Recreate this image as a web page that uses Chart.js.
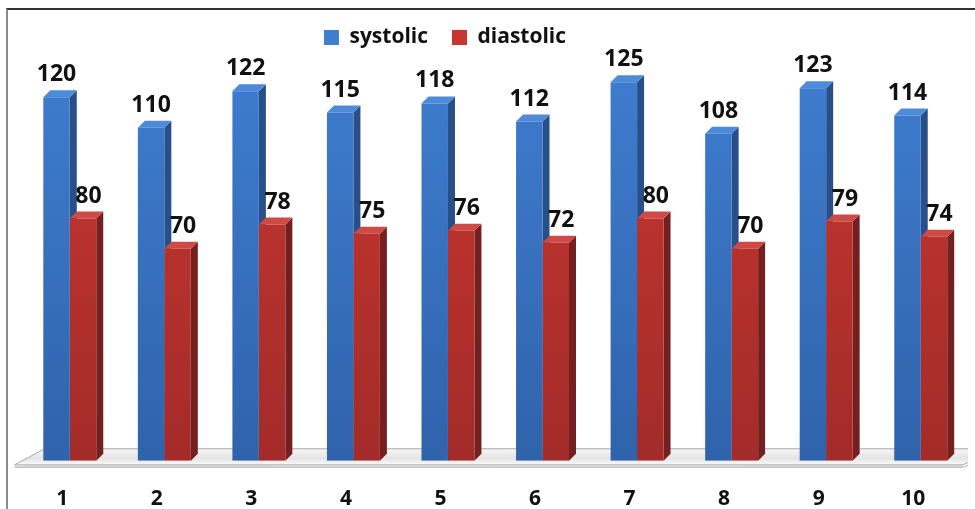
<!DOCTYPE html>
<html>
<head>
<meta charset="utf-8">
<script src="https://cdn.jsdelivr.net/npm/chart.js@4.4.1/dist/chart.umd.min.js"></script>
<style>
  html, body { margin: 0; padding: 0; background: #fff; overflow: hidden; width: 975px; height: 509px; }
  #wrap { position: absolute; left: -78px; top: 0; width: 1046px; height: 530px; }
  #frame { position: absolute; left: 6px; top: 8px; width: 2000px; height: 1000px;
           border-left: 2px solid #8a8a8a; border-top: 2px solid #333; pointer-events: none; }
</style>
</head>
<body>
<div id="wrap"><canvas id="chart" width="1046" height="530"></canvas></div>
<div id="frame"></div>
<script>
// Blood pressure readings per measurement
const categories = ['1', '2', '3', '4', '5', '6', '7', '8', '9', '10'];
const systolic   = [120, 110, 122, 115, 118, 112, 125, 108, 123, 114];
const diastolic  = [80, 70, 78, 75, 76, 72, 80, 70, 79, 74];
const seriesNames = ['systolic', 'diastolic'];

const FONT = "'Open Sans', 'Noto Sans', sans-serif";
const DX = 7, DY = 7;            // depth offset of the box faces
const LABEL_SHIFT = [0, 5.5];    // horizontal nudge of value labels per series

const palette = [
  { top: '#3f7dd0', bottom: '#2f63ab', side: '#284f87', cap: '#4d8ad9' },
  { top: '#c8372f', bottom: '#a32b29', side: '#752020', cap: '#d04a45' }
];

function frontFill(i) {
  return (ctx) => {
    const area = ctx.chart.chartArea;
    if (!area) return palette[i].top;
    const g = ctx.chart.ctx.createLinearGradient(0, area.top, 0, area.bottom);
    g.addColorStop(0, palette[i].top);
    g.addColorStop(1, palette[i].bottom);
    return g;
  };
}

// Floor slab, side faces and top faces drawn behind the bar fronts
const boxFaces = {
  id: 'boxFaces',
  beforeDatasetsDraw(chart) {
    const ctx = chart.ctx;
    const area = chart.chartArea;
    const base = chart.scales.y.getPixelForValue(0);
    ctx.save();
    // floor
    const fl = area.left - 8, bl = area.left + 22, br = area.right + 30, fr = area.right - 5;
    const by = base - 12, fy = base + 4;
    const g = ctx.createLinearGradient(0, by, 0, fy);
    g.addColorStop(0, '#f6f6f6');
    g.addColorStop(0.6, '#e4e4e4');
    g.addColorStop(1, '#fafafa');
    ctx.fillStyle = g;
    ctx.beginPath();
    ctx.moveTo(fl, fy); ctx.lineTo(bl, by); ctx.lineTo(br, by); ctx.lineTo(fr, fy); ctx.closePath();
    ctx.fill();
    ctx.strokeStyle = '#a8a8a8';
    ctx.lineWidth = 1;
    ctx.stroke();
    ctx.fillStyle = '#d4d4d4';
    ctx.fillRect(fl, fy, fr - fl, 2);
    ctx.strokeStyle = '#b8b8b8';
    ctx.beginPath(); ctx.moveTo(fl, fy + 2.5); ctx.lineTo(fr, fy + 2.5); ctx.lineTo(br, by + 2.5); ctx.stroke();

    const metas = chart.data.datasets.map((d, i) => chart.getDatasetMeta(i));
    for (let j = 0; j < categories.length; j++) {
      metas.forEach((meta, di) => {
        const el = meta.data[j];
        if (!el) return;
        const { x, y, width } = el.getProps(['x', 'y', 'width'], true);
        const l = x - width / 2, r = x + width / 2;
        // side face
        ctx.fillStyle = palette[di].side;
        ctx.beginPath();
        ctx.moveTo(r, y); ctx.lineTo(r + DX, y - DY); ctx.lineTo(r + DX, base - DY); ctx.lineTo(r, base);
        ctx.closePath(); ctx.fill();
        // top face
        ctx.fillStyle = palette[di].cap;
        ctx.beginPath();
        ctx.moveTo(l, y); ctx.lineTo(l + DX, y - DY); ctx.lineTo(r + DX, y - DY); ctx.lineTo(r, y);
        ctx.closePath(); ctx.fill();
      });
    }
    ctx.restore();
  }
};

// Value labels above each bar
const valueLabels = {
  id: 'valueLabels',
  afterDatasetsDraw(chart) {
    const ctx = chart.ctx;
    ctx.save();
    ctx.font = 'bold 23px ' + FONT;
    ctx.fillStyle = '#111';
    ctx.textAlign = 'center';
    ctx.textBaseline = 'alphabetic';
    chart.data.datasets.forEach((ds, di) => {
      chart.getDatasetMeta(di).data.forEach((el, j) => {
        ctx.fillText(String(ds.data[j]), el.x + LABEL_SHIFT[di], el.y - 16);
      });
    });
    ctx.restore();
  }
};

new Chart(document.getElementById('chart'), {
  type: 'bar',
  data: {
    labels: categories,
    datasets: [
      { label: seriesNames[0], data: systolic, backgroundColor: frontFill(0), borderWidth: 0 },
      { label: seriesNames[1], data: diastolic, backgroundColor: frontFill(1), borderWidth: 0 }
    ]
  },
  options: {
    responsive: false,
    animation: false,
    layout: { padding: { top: 3, left: 0, right: 0, bottom: 0 } },
    datasets: { bar: { categoryPercentage: 0.56, barPercentage: 1.0 } },
    scales: {
      x: {
        grid: { display: false },
        border: { display: false },
        ticks: { font: { family: FONT, size: 21, weight: 'bold' }, color: '#111', padding: 18, labelOffset: -7.5 }
      },
      y: {
        min: 0, max: 133,
        grid: { display: false },
        border: { display: false },
        ticks: { display: false },
        afterFit(scale) { scale.width = 100.5; }
      }
    },
    plugins: {
      legend: {
        position: 'top',
        labels: {
          font: { family: FONT, size: 21, weight: 'bold' },
          color: '#111',
          boxWidth: 15, boxHeight: 15,
          padding: 24
        }
      },
      tooltip: { enabled: false }
    }
  },
  plugins: [boxFaces, valueLabels]
});
</script>
</body>
</html>
